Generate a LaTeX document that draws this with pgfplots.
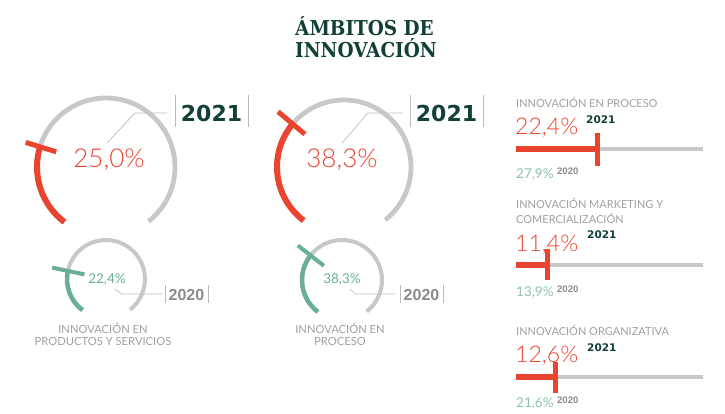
\documentclass[border=0pt]{standalone}
\usepackage{pgfplots}
\pgfplotsset{compat=1.18}
\usepackage{fontspec}
\setmainfont{Liberation Sans}
\newfontfamily\lightfont{Lato Light}
\newfontfamily\regfont{Lato}
\newfontfamily\dvs{DejaVu Sans}
\newfontfamily\titlefont{DejaVu Serif}
\newcommand\fs[1]{\fontsize{#1bp}{#1bp}\selectfont}
\definecolor{cred}{HTML}{E94430}
\definecolor{cring}{HTML}{C8C8C8}
\definecolor{cgreen}{HTML}{6AAE97}
\definecolor{clgreen}{HTML}{8DC2B0}
\definecolor{cdark}{HTML}{123F36}
\definecolor{cgtext}{HTML}{A0A0A0}
\definecolor{cg2020}{HTML}{8A8A8A}
\definecolor{clead}{HTML}{BDBDBD}
\begin{document}
\begin{tikzpicture}
\begin{axis}[x=1bp, y=1bp, y dir=reverse, xmin=0, xmax=725, ymin=0, ymax=413,
  hide axis, clip=false, scale only axis]
\coordinate (BL) at (axis cs:0,413);
\coordinate (TR) at (axis cs:725,0);
% ---------- title
\node[anchor=base west, inner sep=0, text=cdark] at (axis cs:295,35)
  {\scalebox{0.9}[1]{\titlefont\bfseries\fs{20.5}ÁMBITOS DE}};
\node[anchor=base west, inner sep=0, text=cdark] at (axis cs:295,57)
  {\scalebox{0.9}[1]{\titlefont\bfseries\fs{20.5}INNOVACIÓN}};
% ---------- gauge 1 big
\draw[cring, line width=4.8bp] (axis cs:106,167) ++(233:69bp) arc[start angle=233, end angle=-52, radius=69bp];
\draw[cred, line width=6bp] (axis cs:106,167) ++(233:69bp) arc[start angle=233, end angle=163, radius=69bp];
\addplot[cred, line width=5bp] coordinates {(56.3,151.8) (25.7,142.4)};
\draw[clead, line width=0.7bp] (axis cs:107,143) -- (axis cs:135,113) -- (axis cs:167,113);
\draw[clead, line width=1bp] (axis cs:175,95) -- (axis cs:175,127);
\draw[clead, line width=1bp] (axis cs:248,95) -- (axis cs:248,127);
\node[anchor=base, inner sep=0, text=cdark] at (axis cs:211.5,121) {\dvs\bfseries\fs{22}2021};
\node[anchor=base, inner sep=0, text=cred] at (axis cs:109,167) {\lightfont\fs{26}25,0\%};
% ---------- gauge 2 big
\draw[cring, line width=4.8bp] (axis cs:344,167) ++(233:67bp) arc[start angle=233, end angle=-52, radius=67bp];
\draw[cred, line width=6bp] (axis cs:344,167) ++(233:67bp) arc[start angle=233, end angle=140, radius=67bp];
\addplot[cred, line width=5bp] coordinates {(304.9,134.2) (278.1,111.7)};
\draw[clead, line width=0.7bp] (axis cs:342,143) -- (axis cs:368,113) -- (axis cs:403,113);
\draw[clead, line width=1bp] (axis cs:410,95) -- (axis cs:410,127);
\draw[clead, line width=1bp] (axis cs:483,95) -- (axis cs:483,127);
\node[anchor=base, inner sep=0, text=cdark] at (axis cs:446.5,121) {\dvs\bfseries\fs{22}2021};
\node[anchor=base, inner sep=0, text=cred] at (axis cs:342,167) {\lightfont\fs{26}38,3\%};
% ---------- gauge 1 small
\draw[cring, line width=4bp] (axis cs:106,279) ++(233:39bp) arc[start angle=233, end angle=-52, radius=39bp];
\draw[cgreen, line width=4.5bp] (axis cs:106,279) ++(233:39bp) arc[start angle=233, end angle=168, radius=39bp];
\addplot[cgreen, line width=4bp] coordinates {(84.5,274.4) (52.2,267.6)};
\draw[clead, line width=0.7bp] (axis cs:115,289) -- (axis cs:122,294) -- (axis cs:162,294);
\draw[clead, line width=1bp] (axis cs:165,285) -- (axis cs:165,303);
\draw[clead, line width=1bp] (axis cs:208,285) -- (axis cs:208,303);
\node[anchor=base, inner sep=0, text=cg2020] at (axis cs:186.5,300) {\bfseries\fs{16}2020};
\node[anchor=base, inner sep=0, text=cgreen] at (axis cs:107,283) {\regfont\fs{13.5}22,4\%};
\node[anchor=base, inner sep=0, text=cgtext] at (axis cs:103,333) {\regfont\fs{11.2}INNOVACIÓN EN};
\node[anchor=base, inner sep=0, text=cgtext] at (axis cs:103,345.5) {\regfont\fs{11.2}PRODUCTOS Y SERVICIOS};
% ---------- gauge 2 small
\draw[cring, line width=4bp] (axis cs:342,280) ++(233:40bp) arc[start angle=233, end angle=-52, radius=40bp];
\draw[cgreen, line width=4.5bp] (axis cs:342,280) ++(233:40bp) arc[start angle=233, end angle=142, radius=40bp];
\addplot[cgreen, line width=4bp] coordinates {(323.9,265.8) (297.9,245.5)};
\draw[clead, line width=0.7bp] (axis cs:350,289) -- (axis cs:355,294) -- (axis cs:395,294);
\draw[clead, line width=1bp] (axis cs:400,285) -- (axis cs:400,303);
\draw[clead, line width=1bp] (axis cs:443,285) -- (axis cs:443,303);
\node[anchor=base, inner sep=0, text=cg2020] at (axis cs:421.5,300) {\bfseries\fs{16}2020};
\node[anchor=base, inner sep=0, text=cgreen] at (axis cs:342,283) {\regfont\fs{13.5}38,3\%};
\node[anchor=base, inner sep=0, text=cgtext] at (axis cs:340,333) {\regfont\fs{11.2}INNOVACIÓN EN};
\node[anchor=base, inner sep=0, text=cgtext] at (axis cs:340,345.5) {\regfont\fs{11.2}PROCESO};
% ---------- right bars
% bar 1
\node[anchor=base west, inner sep=0, text=cgtext] at (axis cs:516,107) {\regfont\fs{11}INNOVACIÓN EN PROCESO};
\node[anchor=base west, inner sep=0, text=cred] at (axis cs:515,134) {\lightfont\fs{23}22,4\%};
\node[anchor=base west, inner sep=0, text=cdark] at (axis cs:586,123) {\dvs\bfseries\fs{10.5}2021};
\addplot[cring, line width=4.5bp] coordinates {(516,149) (703,149)};
\addplot[cred, line width=5.5bp] coordinates {(516,149) (597,149)};
\addplot[cred, line width=5bp] coordinates {(597,133) (597,166)};
\node[anchor=base west, inner sep=0, text=clgreen] at (axis cs:516,178) {\regfont\fs{13.5}27,9\%};
\node[anchor=base west, inner sep=0, text=cg2020] at (axis cs:557,174) {\bfseries\fs{9.5}2020};
% bar 2
\node[anchor=base west, inner sep=0, text=cgtext] at (axis cs:516,208) {\regfont\fs{11}INNOVACIÓN MARKETING Y};
\node[anchor=base west, inner sep=0, text=cgtext] at (axis cs:516,223) {\regfont\fs{11}COMERCIALIZACIÓN};
\node[anchor=base west, inner sep=0, text=cred] at (axis cs:515,251) {\lightfont\fs{23}11,4\%};
\node[anchor=base west, inner sep=0, text=cdark] at (axis cs:587,238) {\dvs\bfseries\fs{10.5}2021};
\addplot[cring, line width=4.5bp] coordinates {(516,265) (703,265)};
\addplot[cred, line width=5.5bp] coordinates {(516,265) (547,265)};
\addplot[cred, line width=5bp] coordinates {(547,249) (547,280)};
\node[anchor=base west, inner sep=0, text=clgreen] at (axis cs:516,296) {\regfont\fs{13.5}13,9\%};
\node[anchor=base west, inner sep=0, text=cg2020] at (axis cs:557,292) {\bfseries\fs{9.5}2020};
% bar 3
\node[anchor=base west, inner sep=0, text=cgtext] at (axis cs:516,335) {\regfont\fs{11}INNOVACIÓN ORGANIZATIVA};
\node[anchor=base west, inner sep=0, text=cred] at (axis cs:515,362) {\lightfont\fs{23}12,6\%};
\node[anchor=base west, inner sep=0, text=cdark] at (axis cs:587,351) {\dvs\bfseries\fs{10.5}2021};
\addplot[cring, line width=4.5bp] coordinates {(516,377) (703,377)};
\addplot[cred, line width=5.5bp] coordinates {(516,377) (555,377)};
\addplot[cred, line width=5bp] coordinates {(555,362) (555,393)};
\node[anchor=base west, inner sep=0, text=clgreen] at (axis cs:516,407) {\regfont\fs{13.5}21,6\%};
\node[anchor=base west, inner sep=0, text=cg2020] at (axis cs:557,403) {\bfseries\fs{9.5}2020};
\end{axis}
\pgfresetboundingbox
\path (BL) rectangle (TR);
\end{tikzpicture}
\end{document}
